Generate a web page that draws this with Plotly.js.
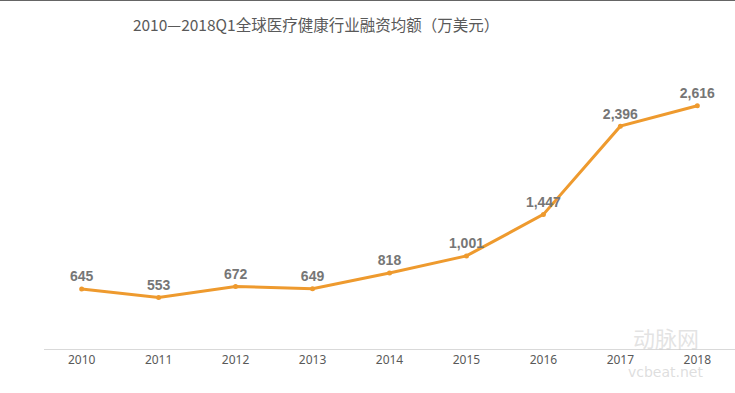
<!DOCTYPE html>
<html>
<head>
<meta charset="utf-8">
<script src="https://cdn.plot.ly/plotly-3.0.1.min.js"></script>
<style>html,body{margin:0;padding:0;background:#fff;}#chart{width:735px;height:393px;}</style>
</head>
<body>
<div id="chart"></div>
<script>
const years = ['2010','2011','2012','2013','2014','2015','2016','2017','2018'];
const values = [645, 553, 672, 649, 818, 1001, 1447, 2396, 2616];
const labels = values.map(v => v.toLocaleString('en-US'));
const titleText = '2010—2018Q1全球医疗健康行业融资均额（万美元）';

const trace = {
  x: years, y: values, type: 'scatter', mode: 'lines+markers+text',
  text: labels, textposition: 'top center',
  textfont: {family: '"Liberation Sans", Arial, sans-serif', size: 14, color: '#767676', weight: 'bold'},
  line: {color: '#EE9A2E', width: 3},
  marker: {color: '#EE9A2E', size: 5},
  cliponaxis: false, hoverinfo: 'none'
};

const layout = {
  width: 735, height: 393,
  margin: {l: 44, r: 0, t: 70, b: 44},
  paper_bgcolor: '#fff', plot_bgcolor: '#fff',
  showlegend: false,
  title: {text: titleText, x: 0.43, xanchor: 'center', y: 0.935, yanchor: 'middle',
          font: {family: '"Noto Sans CJK SC", sans-serif', size: 15.5, color: '#595959'}},
  xaxis: {type: 'category', showgrid: false, zeroline: false, showline: true, linecolor: '#d9d9d9', linewidth: 1,
          ticks: '', tickfont: {family: '"Noto Sans", "DejaVu Sans", sans-serif', size: 12, color: '#595959'}, fixedrange: true},
  yaxis: {range: [0, 3000], visible: false, showgrid: false, zeroline: false, fixedrange: true},
  shapes: [{type: 'line', xref: 'paper', yref: 'paper', x0: -0.1, x1: 1.1, y0: 1.25, y1: 1.25, line: {color: '#333', width: 1}}],
  annotations: [
    {text: '动脉网', xref: 'paper', yref: 'paper', x: 0.9, y: -0.02, xanchor: 'center', showarrow: false,
     font: {family: '"Noto Sans CJK SC", sans-serif', size: 22, color: 'rgba(200,200,200,0.5)'}},
    {text: 'vcbeat.net', xref: 'paper', yref: 'paper', x: 0.9, y: -0.12, xanchor: 'center', showarrow: false,
     font: {family: '"DejaVu Sans", sans-serif', size: 14, color: 'rgba(200,200,200,0.6)'}}
  ]
};

Plotly.newPlot('chart', [trace], layout, {displayModeBar: false, staticPlot: true});
</script>
</body>
</html>
